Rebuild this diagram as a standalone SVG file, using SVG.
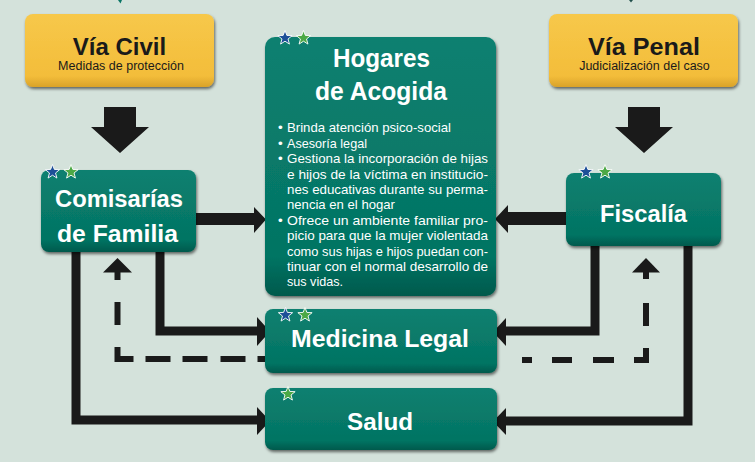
<svg xmlns="http://www.w3.org/2000/svg" width="755" height="462" viewBox="0 0 755 462">
<defs>
<style>
.title{font-family:"Liberation Sans",Arial,sans-serif;font-weight:bold;fill:#ffffff;text-anchor:middle}
.ytitle{font-family:"Liberation Sans",Arial,sans-serif;font-weight:bold;fill:#1a1a1a;text-anchor:middle;font-size:24px}
.ysub{font-family:"Liberation Sans",Arial,sans-serif;fill:#1a1a1a;text-anchor:middle;font-size:12.5px}
.body{font-family:"Liberation Sans",Arial,sans-serif;fill:#ffffff;font-size:13.5px}
.teal{fill:url(#gTeal);filter:url(#sh)}
.yellow{fill:url(#gYel);filter:url(#sh)}
.line{fill:none;stroke:#1a1a1a;stroke-width:9;stroke-linejoin:miter}
.dash{fill:none;stroke:#1a1a1a;stroke-width:6;stroke-linejoin:miter}
.head{fill:#1a1a1a}
.sb{fill:#1d4f98;stroke:#ffffff;stroke-width:0.9}
.sg{fill:#4ca946;stroke:#ffffff;stroke-width:0.9}
</style>
<linearGradient id="gTeal" x1="0" y1="0" x2="0" y2="1">
<stop offset="0" stop-color="#0b8070"/>
<stop offset="0.85" stop-color="#047463"/>
<stop offset="1" stop-color="#03594c"/>
</linearGradient>
<linearGradient id="gYel" x1="0" y1="0" x2="0" y2="1">
<stop offset="0" stop-color="#f7c84a"/>
<stop offset="0.85" stop-color="#f3bd3a"/>
<stop offset="1" stop-color="#d9a22a"/>
</linearGradient>
<filter id="sh" x="-10%" y="-10%" width="120%" height="130%">
<feDropShadow dx="1" dy="2" stdDeviation="1.5" flood-color="#000000" flood-opacity="0.55"/>
</filter>
<path id="star" d="M0,-7.5 L1.88,-2.59 L7.13,-2.32 L3.04,0.99 L4.41,6.07 L0,3.2 L-4.41,6.07 L-3.04,0.99 L-7.13,-2.32 L-1.88,-2.59 Z"/>
</defs>
<rect width="755" height="462" fill="#d4e2db"/>

<g id="connectors">
<path d="M118,0 L122,0 L120.5,3.5 Z" fill="#0a7565"/>
<path d="M629,0 L633,0 L631,2.5 Z" fill="#1f4f4a"/>
<polygon class="head" points="104,107 136,107 136,127 149,127 120,153 91,127 104,127"/>
<polygon class="head" points="628,107 660,107 660,127 673,127 644,153 615,127 628,127"/>
<polygon class="head" points="196,213 254,213 254,207 266,219.5 254,233 254,225 196,225"/>
<polygon class="head" points="566,212 508,212 508,205 495,219 508,233 508,225 566,225"/>
<path class="line" d="M76,250 V420 H258"/>
<polygon class="head" points="257,407 270,421 257,435"/>
<path class="line" d="M160,250 V331 H258"/>
<polygon class="head" points="257,317 270,331.5 257,346"/>
<path class="line" d="M595,244 V331 H505"/>
<polygon class="head" points="506,318 493,332 506,346"/>
<path class="line" d="M688,244 V421 H505"/>
<polygon class="head" points="506,408 493,421.5 506,435"/>
<path class="dash" d="M117.5,272 V359 H265" stroke-dasharray="8 22 23 22 28 12 25 12 25 13 25 12 8"/>
<polygon class="head" points="103,272.5 117.5,258 132,272.5"/>
<path class="dash" d="M646,272 V360 H522" stroke-dasharray="7 24 23 22 24 20 21 21 20 20 11"/>
<polygon class="head" points="632,272.5 646,258 660,272.5"/>
</g>

<g id="via-civil">
<rect class="yellow" x="25" y="14" width="189" height="73" rx="8"/>
<text class="ytitle" x="119.5" y="55">Vía Civil</text>
<text class="ysub" x="121" y="70">Medidas de protección</text>
</g>

<g id="via-penal">
<rect class="yellow" x="549" y="14" width="189" height="73" rx="8"/>
<text class="ytitle" x="644" y="55" textLength="112" lengthAdjust="spacingAndGlyphs">Vía Penal</text>
<text class="ysub" x="644.5" y="70">Judicialización del caso</text>
</g>

<g id="comisarias">
<rect class="teal" x="41" y="170" width="155" height="82" rx="8"/>
<text class="title" x="119" y="207" font-size="23" textLength="128" lengthAdjust="spacingAndGlyphs">Comisarías</text>
<text class="title" x="117.5" y="242" font-size="23" textLength="121" lengthAdjust="spacingAndGlyphs">de Familia</text>
<use href="#star" class="sb" x="52.5" y="172"/>
<use href="#star" class="sg" x="71" y="172"/>
</g>

<g id="hogares">
<rect class="teal" x="265" y="37" width="231" height="259" rx="10"/>
<text class="title" x="381.5" y="67" font-size="25" textLength="97" lengthAdjust="spacingAndGlyphs">Hogares</text>
<text class="title" x="381" y="100" font-size="25" textLength="132" lengthAdjust="spacingAndGlyphs">de Acogida</text>
<g class="body">
<text x="278" y="132">•</text>
<text x="278" y="147.5">•</text>
<text x="278" y="163">•</text>
<text x="278" y="224.5">•</text>
<text x="287" y="132" textLength="164" lengthAdjust="spacingAndGlyphs">Brinda atención psico-social</text>
<text x="287" y="147.5" textLength="80" lengthAdjust="spacingAndGlyphs">Asesoría legal</text>
<text x="287" y="163" textLength="201" lengthAdjust="spacingAndGlyphs">Gestiona la incorporación de hijas</text>
<text x="287" y="178.5" textLength="201" lengthAdjust="spacingAndGlyphs">e hijos de la víctima en institucio-</text>
<text x="287" y="194" textLength="201" lengthAdjust="spacingAndGlyphs">nes educativas durante su perma-</text>
<text x="287" y="209" textLength="108" lengthAdjust="spacingAndGlyphs">nencia en el hogar</text>
<text x="287" y="224.5" textLength="201" lengthAdjust="spacingAndGlyphs">Ofrece un ambiente familiar  pro-</text>
<text x="287" y="240" textLength="201" lengthAdjust="spacingAndGlyphs">picio para que la mujer violentada</text>
<text x="287" y="255.5" textLength="201" lengthAdjust="spacingAndGlyphs">como sus hijas e hijos puedan con-</text>
<text x="287" y="271" textLength="201" lengthAdjust="spacingAndGlyphs">tinuar con el normal desarrollo de</text>
<text x="287" y="286" textLength="56" lengthAdjust="spacingAndGlyphs">sus vidas.</text>
</g>
<use href="#star" class="sb" x="285" y="38"/>
<use href="#star" class="sg" x="303.5" y="38"/>
</g>

<g id="fiscalia">
<rect class="teal" x="566" y="173" width="155" height="73" rx="8"/>
<text class="title" x="643.5" y="222" font-size="24" textLength="87" lengthAdjust="spacingAndGlyphs">Fiscalía</text>
<use href="#star" class="sb" x="586" y="172"/>
<use href="#star" class="sg" x="605" y="172"/>
</g>

<g id="medicina-legal">
<rect class="teal" x="265" y="309" width="232" height="64" rx="8"/>
<text class="title" x="380" y="347" font-size="24" textLength="178" lengthAdjust="spacingAndGlyphs">Medicina Legal</text>
<use href="#star" class="sb" x="285.5" y="315"/>
<use href="#star" class="sg" x="305" y="315"/>
</g>

<g id="salud">
<rect class="teal" x="265" y="388" width="232" height="62" rx="8"/>
<text class="title" x="380" y="430" font-size="24" textLength="66" lengthAdjust="spacingAndGlyphs">Salud</text>
<use href="#star" class="sg" x="288" y="394"/>
</g>
</svg>
